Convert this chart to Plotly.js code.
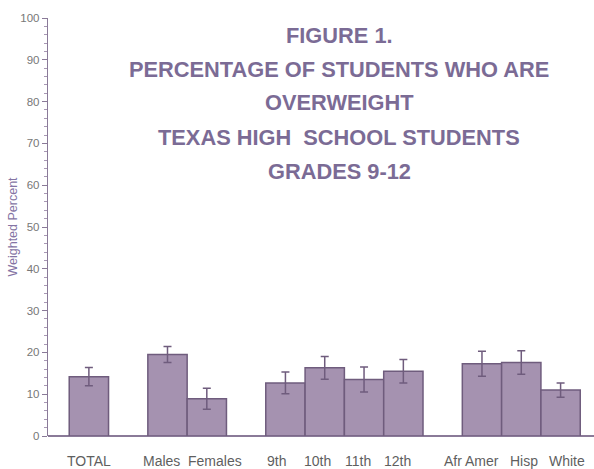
<!DOCTYPE html>
<html>
<head>
<meta charset="utf-8">
<script src="https://cdn.plot.ly/plotly-3.0.1.min.js"></script>
<style>html,body{margin:0;padding:0;background:#fff;}#chart{width:594px;height:469px;}</style>
</head>
<body>
<div id="chart"></div>
<script>
const categories = ['TOTAL', 'Males', 'Females', '9th', '10th', '11th', '12th', 'Afr Amer', 'Hisp', 'White'];
const values = [14.2, 19.5, 8.9, 12.7, 16.3, 13.5, 15.5, 17.3, 17.6, 11.0];
const errors = [2.2, 1.9, 2.5, 2.6, 2.7, 3.0, 2.8, 3.0, 2.8, 1.7];
const categoryOrder = ['TOTAL', ' ', 'Males', 'Females', '  ', '9th', '10th', '11th', '12th', '   ', 'Afr Amer', 'Hisp', 'White'];
const titleLines = ['FIGURE 1.', 'PERCENTAGE OF STUDENTS WHO ARE', 'OVERWEIGHT', 'TEXAS HIGH  SCHOOL STUDENTS', 'GRADES 9-12'];
const titleY = [95.9, 87.8, 79.7, 71.3, 63.2];
// small horizontal nudges of the category labels (pixels), as placed in the original
const labelShift = [0, -6, 8, -9, -7, -6, -6, -10, 3, 6];

const trace = {
  type: 'bar',
  x: categories,
  y: values,
  width: 1,
  marker: {color: '#a592b0', line: {color: '#6f5c7d', width: 1.5}},
  error_y: {type: 'data', array: errors, visible: true, color: '#6f5c7d', thickness: 1.5, width: 4}
};

const titleAnn = titleLines.map((t, i) => ({
  text: t, xref: 'paper', yref: 'y', x: 0.533, y: titleY[i],
  showarrow: false, xanchor: 'center', yanchor: 'middle',
  font: {family: 'Liberation Sans, Arial, sans-serif', size: 21.8, color: '#7b6b95', weight: 'bold'}
}));
const labelAnn = categories.map((c, i) => ({
  text: c, xref: 'x', yref: 'paper', x: c, y: -0.06, xshift: labelShift[i],
  showarrow: false, xanchor: 'center', yanchor: 'middle',
  font: {family: 'Liberation Sans, Arial, sans-serif', size: 14, color: '#5f5f5f'}
}));

const layout = {
  width: 594, height: 469,
  margin: {l: 48, r: 0, t: 18, b: 33},
  paper_bgcolor: '#ffffff', plot_bgcolor: '#ffffff',
  showlegend: false,
  bargap: 0,
  font: {family: 'Liberation Sans, Arial, sans-serif'},
  xaxis: {
    type: 'category', categoryorder: 'array', categoryarray: categoryOrder,
    range: [-1.04, 12.85], showgrid: false, zeroline: false,
    showline: false, ticks: '', showticklabels: false
  },
  yaxis: {
    range: [0, 100], dtick: 10, showgrid: false, zeroline: true,
    zerolinecolor: '#8a7a98', zerolinewidth: 1.5,
    showline: true, linecolor: '#8a7a98', linewidth: 1.2,
    ticks: 'outside', ticklen: 5, tickcolor: '#8a7a98', tickwidth: 1,
    minor: {dtick: 2, ticks: 'outside', ticklen: 3, tickcolor: '#a898b4'},
    tickfont: {size: 11.5, color: '#777777'},
    title: {text: 'Weighted Percent', font: {size: 12.5, color: '#8474a4'}, standoff: 0}
  },
  annotations: titleAnn.concat(labelAnn)
};

Plotly.newPlot('chart', [trace], layout, {displayModeBar: false, staticPlot: true});
</script>
</body>
</html>
